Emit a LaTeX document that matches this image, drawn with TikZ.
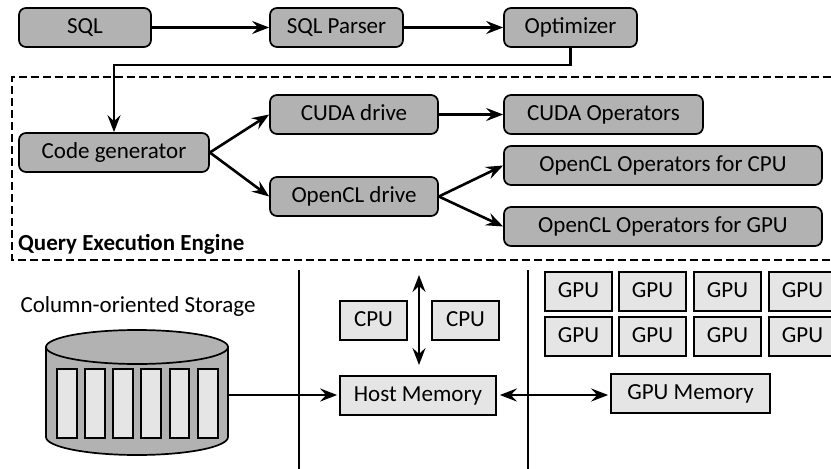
\documentclass[tikz,border=0pt]{standalone}
\usepackage{fontspec}
\setmainfont{Carlito}
\usetikzlibrary{arrows.meta}
\tikzset{
  darkbox/.style={draw=black, line width=1.7pt, fill=black!30, rounded corners=7pt, minimum height=39pt, inner sep=0pt, text height=16pt, text depth=5pt},
  lightbox/.style={draw=black, line width=1.7pt, fill=black!10, minimum height=39pt, inner sep=0pt, text height=16pt, text depth=5pt},
  flow/.style={line width=2.6pt, -{Stealth[length=17pt, width=13pt, inset=6pt]}},
  bothflow/.style={line width=2.6pt, {Stealth[length=17pt, width=13pt, inset=6pt]}-{Stealth[length=17pt, width=13pt, inset=6pt]}},
  border/.style={line width=2pt, dash pattern=on 8pt off 4pt}
}
\begin{document}
\begin{tikzpicture}[x=1pt, y=-1pt, font=\fontsize{23}{25}\selectfont]
            \useasboundingbox (0, 0) rectangle (831, 469);
            \clip (0, 0) rectangle (831, 469);

            % Query engine frame, open on the right
            \draw[border] (831, 77) -- (12, 77) -- (12, 260) -- (831, 260);
            \node[anchor=west, inner sep=0pt, font=\fontsize{23}{25}\selectfont\bfseries] (enginelabel) at (18, 244) {Query Execution Engine};

            % Top row
            \node[darkbox, minimum width=132pt] (sql) at (85, 27.5) {SQL};
            \node[darkbox, minimum width=133pt] (parser) at (336.5, 27.5) {SQL Parser};
            \node[darkbox, minimum width=133pt] (optimizer) at (570.5, 27.5) {Optimizer};

            % Inside the engine
            \node[darkbox, minimum width=190pt] (codegen) at (114, 152.5) {Code generator};
            \node[darkbox, minimum width=168pt] (cuda) at (354, 114.5) {CUDA drive};
            \node[darkbox, minimum width=168pt] (opencl) at (354, 196.5) {OpenCL drive};
            \node[darkbox, minimum width=199pt] (cudaops) at (603.5, 114.5) {CUDA Operators};
            \node[darkbox, minimum width=318pt] (cpuops) at (663, 165.5) {OpenCL Operators for CPU};
            \node[darkbox, minimum width=318pt] (gpuops) at (663, 226.5) {OpenCL Operators for GPU};

            \draw[flow] (sql) -- (parser);
            \draw[flow] (parser) -- (optimizer);
            \draw[flow] (optimizer.south) -- ++(0, 17) -| (codegen.north);
            \draw[flow] (codegen.east) -- (cuda.west);
            \draw[flow] (codegen.east) -- (opencl.west);
            \draw[flow] (cuda) -- (cudaops);
            \draw[flow] (opencl.east) -- (cpuops.west);
            \draw[flow] (opencl.east) -- (gpuops.west);

            % Separators
            \coordinate (sepa) at (299, 270);
            \coordinate (sepb) at (299, 469);
            \coordinate (sepc) at (528, 270);
            \coordinate (sepd) at (528, 469);
            \draw[line width=2.4pt] (sepa) -- (sepb);
            \draw[line width=2.4pt] (sepc) -- (sepd);

            % Storage
            \node (storagelabel) at (138, 306) {Column-oriented Storage};
            \filldraw[line width=1.7pt, fill=black!30] (46, 347) -- (46, 437) arc[start angle=180, end angle=360, x radius=91, y radius=-18] -- (228, 347) -- cycle;
            \filldraw[line width=1.7pt, fill=black!30] (137, 347) ellipse [x radius=91, y radius=17];
            \filldraw[line width=1.3pt, fill=black!10] (57, 369) rectangle (77, 438);
            \filldraw[line width=1.3pt, fill=black!10] (85, 369) rectangle (105, 438);
            \filldraw[line width=1.3pt, fill=black!10] (113, 369) rectangle (133, 438);
            \filldraw[line width=1.3pt, fill=black!10] (141, 369) rectangle (161, 438);
            \filldraw[line width=1.3pt, fill=black!10] (170, 369) rectangle (189, 438);
            \filldraw[line width=1.3pt, fill=black!10] (198, 369) rectangle (218, 438);
            \coordinate (storage) at (228, 395);

            % Host side
            \node[lightbox, minimum width=67pt] (cpua) at (373.5, 320.5) {CPU};
            \node[lightbox, minimum width=67pt] (cpub) at (465.5, 320.5) {CPU};
            \node[lightbox, minimum width=156pt] (host) at (418, 395.5) {Host Memory};
            \coordinate (bustop) at (419, 275);
            \coordinate (busbottom) at (419, 365);
            \draw[bothflow] (bustop) -- (busbottom);

            % GPU side
            \node[lightbox, minimum width=67pt] (gpua) at (578.5, 291.5) {GPU};
            \node[lightbox, minimum width=67pt] (gpub) at (652.5, 291.5) {GPU};
            \node[lightbox, minimum width=67pt] (gpuc) at (727.5, 291.5) {GPU};
            \node[lightbox, minimum width=67pt] (gpud) at (802.5, 291.5) {GPU};
            \node[lightbox, minimum width=67pt] (gpue) at (578.5, 336.5) {GPU};
            \node[lightbox, minimum width=67pt] (gpuf) at (652.5, 336.5) {GPU};
            \node[lightbox, minimum width=67pt] (gpug) at (727.5, 336.5) {GPU};
            \node[lightbox, minimum width=67pt] (gpuh) at (802.5, 336.5) {GPU};
            \node[lightbox, minimum width=159pt] (gpumem) at (690.5, 393.5) {GPU Memory};

            \draw[flow, shorten >=2pt] (storage) -- (storage -| host.west);
            \draw[bothflow, shorten >=2pt, shorten <=3pt] (host.east |- 0, 395) -- (gpumem.west |- 0, 395);
\end{tikzpicture}
\end{document}
